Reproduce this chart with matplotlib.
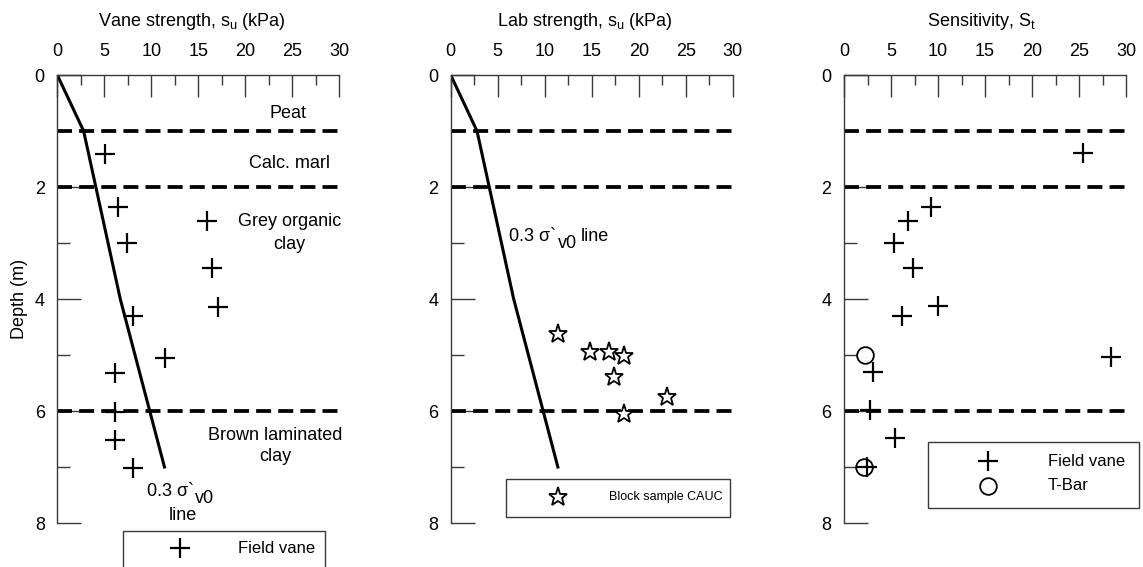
import matplotlib
matplotlib.use("Agg")
import matplotlib.pyplot as plt
from matplotlib.patches import Rectangle
from matplotlib.ticker import MultipleLocator

plt.rcParams['font.family'] = ['Liberation Sans', 'DejaVu Sans']
plt.rcParams['mathtext.fontset'] = 'custom'
plt.rcParams['mathtext.rm'] = 'Liberation Sans'
plt.rcParams['mathtext.it'] = 'Liberation Sans'
plt.rcParams['mathtext.sf'] = 'Liberation Sans'

# ---- data ----
layer_depths = [1, 2, 6]
line_su = [0, 2.8, 6.7, 11.4]
line_depth = [0, 1, 4, 7]

vane_su = [5.1, 6.5, 15.9, 7.4, 16.5, 17.1, 8.0, 11.45, 6.1, 6.1, 6.1, 8.1]
vane_depth = [1.41, 2.35, 2.6, 3.0, 3.45, 4.15, 4.3, 5.06, 5.32, 6.01, 6.52, 7.01]

lab_su = [11.45, 14.8, 16.8, 18.4, 17.4, 23.05, 18.4]
lab_depth = [4.62, 4.95, 4.95, 5.01, 5.40, 5.75, 6.05]

sens_vane = [25.4, 9.26, 6.84, 5.31, 7.37, 10.05, 6.2, 28.4, 3.1, 2.8, 5.4, 2.46]
sens_vane_depth = [1.40, 2.35, 2.61, 3.0, 3.45, 4.13, 4.30, 5.04, 5.30, 5.99, 6.49, 7.0]
sens_tbar = [2.2, 2.1]
sens_tbar_depth = [5.0, 7.0]

x_ticks = [0, 5, 10, 15, 20, 25, 30]
y_ticks = [0, 2, 4, 6, 8]

FS = 13
AXC = '#3a3a3a'

fig = plt.figure(figsize=(11.43, 5.67), dpi=100)
W, H = 1143, 567
lefts = [57.3, 450.7, 844.0]
axes = []
for l in lefts:
    ax = fig.add_axes([l / W, 1 - 523 / H, 282 / W, 448 / H])
    axes.append(ax)

for ax in axes:
    ax.set_xlim(0, 30)
    ax.set_ylim(8, 0)
    ax.xaxis.tick_top()
    ax.set_xticks(x_ticks)
    ax.set_yticks(y_ticks)
    ax.xaxis.set_minor_locator(MultipleLocator(2.5))
    ax.yaxis.set_minor_locator(MultipleLocator(1))
    ax.tick_params(axis='x', which='major', direction='in', length=16, width=1,
                   pad=11, labelsize=FS, top=True, bottom=False)
    ax.tick_params(axis='x', which='minor', direction='in', length=7, width=1,
                   top=True, bottom=False)
    ax.tick_params(axis='y', which='major', direction='in', length=17, width=1,
                   pad=9, labelsize=FS)
    ax.tick_params(axis='y', which='minor', direction='in', length=9, width=1)
    for s in ['right', 'bottom']:
        ax.spines[s].set_visible(False)
    for s in ['left', 'top']:
        ax.spines[s].set_linewidth(1)
        ax.spines[s].set_color(AXC)
    ax.tick_params(colors=AXC, labelcolor='black', which='both')
    for d in layer_depths:
        ax.plot([0, 30], [d, d], color='black', lw=2.7, dashes=(4.0, 1.9),
                dash_capstyle='butt', clip_on=False)

ax1, ax2, ax3 = axes


def sigma_label(ax, x, y, tail=''):
    t1 = ax.text(x, y, '0.3 σ`', ha='left', va='baseline', fontsize=FS)
    t2 = ax.annotate('v0', xy=(1.0, 0.0), xycoords=t1, xytext=(1, -5),
                     textcoords='offset points', ha='left', va='bottom',
                     fontsize=FS)
    if tail:
        ax.annotate(tail, xy=(1.0, 0.0), xycoords=t2, xytext=(3, 5),
                    textcoords='offset points', ha='left', va='bottom',
                    fontsize=FS)
    return t1


# Panel 1
ax1.plot(line_su, line_depth, color='black', lw=2.2)
ax1.plot(vane_su, vane_depth, ls='none', marker='+', ms=14, mew=1.6, color='black')
ax1.text(0.477, 1.109, r'Vane strength, s$_{\mathrm{u}}$ (kPa)', transform=ax1.transAxes,
         ha='center', va='baseline', fontsize=FS)
ax1.set_ylabel('Depth (m)', fontsize=FS)
ax1.yaxis.set_label_coords(-0.104, 0.5)
ax1.text(24.5, 0.68, 'Peat', ha='center', va='center', fontsize=FS)
ax1.text(24.7, 1.58, 'Calc. marl', ha='center', va='center', fontsize=FS)
ax1.text(24.7, 2.82, 'Grey organic\nclay', ha='center', va='center', fontsize=FS,
         linespacing=1.45)
ax1.text(23.2, 6.62, 'Brown laminated\nclay', ha='center', va='center', fontsize=FS,
         linespacing=1.3)
sigma_label(ax1, 9.5, 7.52)
ax1.text(13.4, 7.86, 'line', ha='center', va='center', fontsize=FS)
# legend panel 1
ax1.add_patch(Rectangle((0.233, -0.116), 0.716, 0.098, transform=ax1.transAxes,
                        fill=False, ec=AXC, lw=1, clip_on=False))
ax1.plot([0.435], [-0.056], transform=ax1.transAxes, marker='+', ms=14, mew=1.6,
         color='black', clip_on=False)
ax1.text(0.641, -0.056, 'Field vane', transform=ax1.transAxes, ha='left',
         va='center', fontsize=12)

# Panel 2
ax2.plot(line_su, line_depth, color='black', lw=2.2)
ax2.plot(lab_su, lab_depth, ls='none', marker='*', ms=14, mew=1.3, mfc='white',
         mec='black')
ax2.text(0.476, 1.109, r'Lab strength, s$_{\mathrm{u}}$ (kPa)', transform=ax2.transAxes,
         ha='center', va='baseline', fontsize=FS)
sigma_label(ax2, 6.2, 2.96, 'line')
ax2.add_patch(Rectangle((0.196, 0.0134), 0.794, 0.0846, transform=ax2.transAxes,
                        fill=False, ec=AXC, lw=1, clip_on=False))
ax2.plot([0.380], [0.058], transform=ax2.transAxes, marker='*', ms=14, mew=1.3,
         mfc='white', mec='black', clip_on=False)
ax2.text(0.561, 0.058, 'Block sample CAUC', transform=ax2.transAxes, ha='left',
         va='center', fontsize=9)

# Panel 3
ax3.plot(sens_vane, sens_vane_depth, ls='none', marker='+', ms=14, mew=1.6, color='black')
ax3.plot(sens_tbar, sens_tbar_depth, ls='none', marker='o', ms=12, mew=1.3,
         mfc='none', mec='black')
ax3.text(0.486, 1.109, r'Sensitivity, S$_{\mathrm{t}}$', transform=ax3.transAxes,
         ha='center', va='baseline', fontsize=FS)
ax3.add_patch(Rectangle((0.298, 0.0335), 0.748, 0.1475, transform=ax3.transAxes,
                        fill=False, ec=AXC, lw=1, clip_on=False))
ax3.plot([0.511], [0.138], transform=ax3.transAxes, marker='+', ms=14, mew=1.6,
         color='black', clip_on=False)
ax3.plot([0.511], [0.0826], transform=ax3.transAxes, marker='o', ms=12, mew=1.3,
         mfc='none', mec='black', clip_on=False)
ax3.text(0.723, 0.138, 'Field vane', transform=ax3.transAxes, ha='left',
         va='center', fontsize=12)
ax3.text(0.723, 0.0826, 'T-Bar', transform=ax3.transAxes, ha='left',
         va='center', fontsize=12)

fig.savefig('out.png', dpi=100)
